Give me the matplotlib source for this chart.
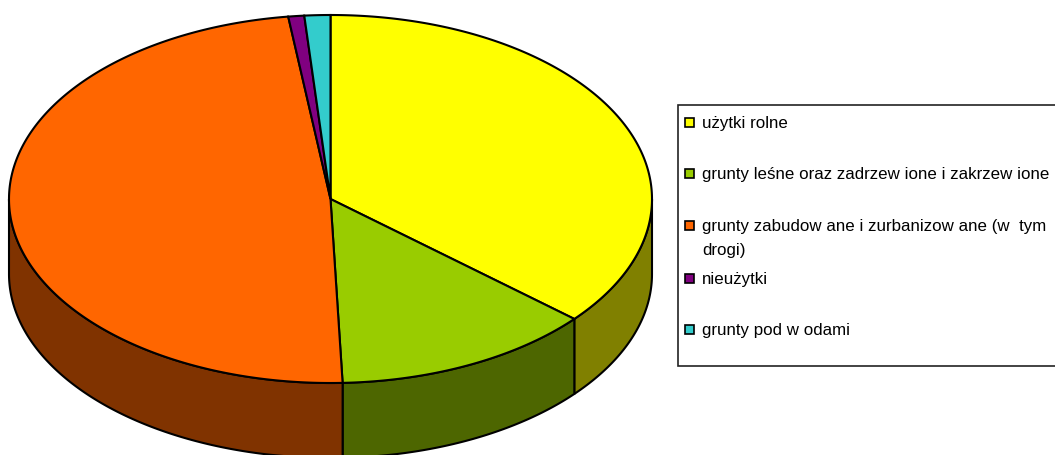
import matplotlib.pyplot as plt
import matplotlib.patches as mpatches
import numpy as np

plt.rcParams['font.family'] = ['Liberation Sans', 'DejaVu Sans']

# land use shares (%)
labels = ['użytki rolne',
          'grunty leśne oraz zadrzew ione i zakrzew ione',
          'grunty zabudow ane i zurbanizow ane (w  tym\ndrogi)',
          'nieużytki',
          'grunty pod w odami']
values = [36.3, 13.1, 48.5, 0.8, 1.3]
top_colors = ['#FFFF00', '#99CC00', '#FF6600', '#800080', '#33CCCC']
side_colors = ['#808000', '#4D6600', '#803300', '#400040', '#1A6666']

# pie geometry in pixels
cx, cy = 330.5, 199
rx, ry = 321.5, 184
depth = 75

fig = plt.figure(figsize=(10.55, 4.55), dpi=100)
ax = fig.add_axes([0, 0, 1, 1])
ax.set_xlim(0, 1055)
ax.set_ylim(455, 0)
ax.axis('off')


def arc(t1, t2, dy=0):
    t = np.radians(np.linspace(t1, t2, max(int(abs(t2 - t1) * 2), 2)))
    return np.column_stack([cx + rx * np.cos(t), cy - ry * np.sin(t) + dy])


# slice angles: start at 12 o'clock, go clockwise
angles = []
start = 90.0
for v in values:
    end = start - v * 3.6
    angles.append((end, start))
    start = end

# side walls (front half only)
for (a, b), sc in zip(angles, side_colors):
    for k in (-720, -360, 0, 360):
        lo = max(a, 180 + k)
        hi = min(b, 360 + k)
        if hi > lo:
            top = arc(lo, hi)
            bot = arc(hi, lo, depth)
            ax.add_patch(mpatches.Polygon(np.vstack([top, bot]), closed=True,
                                          facecolor=sc, edgecolor='black',
                                          linewidth=1.5, zorder=1))

# top faces
for (a, b), tc in zip(angles, top_colors):
    pts = np.vstack([[cx, cy], arc(a, b)])
    ax.add_patch(mpatches.Polygon(pts, closed=True, facecolor=tc,
                                  edgecolor='black', linewidth=1.5, zorder=2))

# legend
ax.add_patch(mpatches.Rectangle((678, 105), 380, 261, facecolor='white',
                                edgecolor='#222222', linewidth=1.2, zorder=3))
rows = [122, 173, 225, 278, 329]
for lab, col, y in zip(labels, top_colors, rows):
    ax.add_patch(mpatches.Rectangle((685, y - 4.5), 9, 9, facecolor=col,
                                    edgecolor='black', linewidth=1.2, zorder=4))
    for i, line in enumerate(lab.split('\n')):
        ax.text(702, y + 6 + 24 * i, line, fontsize=12.2, va='baseline',
                ha='left', zorder=4)

fig.savefig('out.png', dpi=100)
